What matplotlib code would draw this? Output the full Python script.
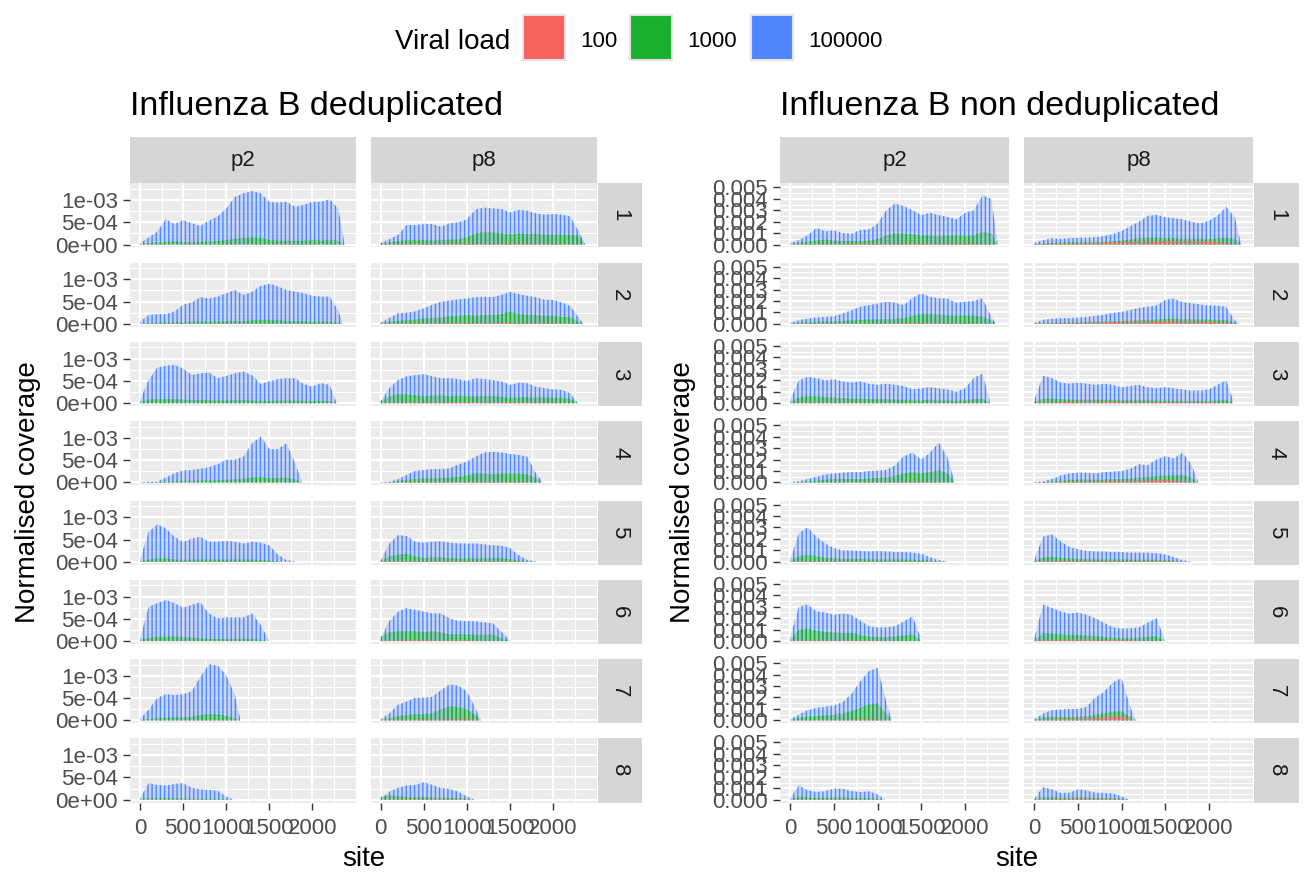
import numpy as np
import matplotlib
matplotlib.use('Agg')
import matplotlib.pyplot as plt
from matplotlib.patches import Rectangle
from matplotlib.colors import to_rgba

plt.rcParams['font.family'] = ['Liberation Sans', 'DejaVu Sans']
plt.rcParams['hatch.linewidth'] = 1.0

# ---------------- data (coverage values in units of 1e-3) ----------------
STEP = 100          # site spacing of the main series
RED_STEP = 500      # site spacing of the 100-copy series
SEG_END = [2370, 2350, 2280, 1880, 1800, 1490, 1160, 1080]
SEGMENTS = ['1', '2', '3', '4', '5', '6', '7', '8']
PASSAGES = ['p2', 'p8']
VIRAL_LOADS = ['100', '1000', '100000']
LOAD_COLORS = ['#F5615C', '#1AB02E', '#4F86FF']

DD_P2_BLUE = [
    [0.03,0.16,0.29,0.57,0.46,0.55,0.48,0.42,0.54,0.63,0.81,1.07,1.15,1.2,1.15,0.96,0.94,0.96,0.85,0.89,0.96,0.96,1.02,0.81,0.05],
    [0.05,0.2,0.22,0.22,0.28,0.43,0.48,0.6,0.57,0.61,0.69,0.76,0.65,0.72,0.85,0.9,0.84,0.76,0.72,0.69,0.63,0.61,0.61,0.3,0.02],
    [0.07,0.52,0.8,0.84,0.86,0.78,0.63,0.67,0.69,0.56,0.61,0.67,0.71,0.63,0.43,0.49,0.54,0.56,0.56,0.43,0.37,0.45,0.41,0.02],
    [0.01,0.02,0.02,0.11,0.21,0.27,0.28,0.31,0.34,0.41,0.51,0.51,0.58,0.88,1.03,0.75,0.75,0.88,0.43,0.01],
    [0.04,0.67,0.84,0.75,0.56,0.45,0.52,0.56,0.45,0.45,0.47,0.45,0.41,0.45,0.43,0.37,0.16,0.04,0.01],
    [0.05,0.77,0.85,0.92,0.85,0.75,0.81,0.87,0.62,0.51,0.53,0.53,0.53,0.62,0.36,0.03],
    [0.03,0.24,0.5,0.59,0.57,0.59,0.65,0.98,1.26,1.23,1.02,0.57,0.05],
    [0.03,0.37,0.33,0.32,0.35,0.37,0.27,0.23,0.22,0.20,0.07,0.01],
]
DD_P2_GREEN = [
    [0.01,0.03,0.05,0.06,0.07,0.06,0.06,0.06,0.07,0.08,0.1,0.13,0.15,0.16,0.15,0.1,0.09,0.09,0.08,0.09,0.1,0.09,0.1,0.09,0.01],
    [0.01,0.02,0.03,0.03,0.03,0.04,0.05,0.05,0.05,0.05,0.06,0.06,0.06,0.08,0.09,0.09,0.08,0.07,0.06,0.06,0.05,0.05,0.05,0.03,0.0],
    [0.03,0.08,0.09,0.09,0.09,0.08,0.07,0.07,0.07,0.06,0.06,0.07,0.07,0.06,0.05,0.05,0.06,0.06,0.06,0.05,0.05,0.05,0.05,0.01],
    [0.0,0.01,0.01,0.02,0.03,0.04,0.04,0.04,0.05,0.05,0.06,0.07,0.08,0.11,0.12,0.1,0.1,0.11,0.07,0.0],
    [0.01,0.05,0.08,0.08,0.05,0.04,0.05,0.05,0.05,0.05,0.05,0.05,0.05,0.05,0.04,0.03,0.01,0.0,0.0],
    [0.03,0.07,0.09,0.1,0.1,0.09,0.08,0.06,0.05,0.05,0.05,0.05,0.05,0.05,0.03,0.0],
    [0.01,0.03,0.05,0.06,0.07,0.07,0.08,0.12,0.14,0.14,0.1,0.05,0.0],
    [0.02,0.03,0.03,0.03,0.03,0.03,0.02,0.02,0.02,0.02,0.01,0.0],
]
DD_P2_RED = [
    [0.003,0.005,0.006,0.006,0.005,0.0],
    [0.003,0.004,0.005,0.005,0.004,0.0],
    [0.004,0.005,0.005,0.004,0.004,0.0],
    [0.002,0.004,0.005,0.006,0.0],
    [0.004,0.004,0.004,0.003,0.0],
    [0.005,0.004,0.004,0.0],
    [0.003,0.005,0.006,0.0],
    [0.003,0.003,0.002,0.0],
]
DD_P8_BLUE = [
    [0.04,0.12,0.22,0.44,0.44,0.46,0.46,0.40,0.48,0.50,0.57,0.79,0.83,0.81,0.80,0.72,0.78,0.76,0.70,0.67,0.69,0.67,0.63,0.29,0.02],
    [0.03,0.13,0.24,0.25,0.28,0.35,0.43,0.5,0.52,0.55,0.57,0.6,0.61,0.6,0.65,0.72,0.67,0.63,0.6,0.54,0.54,0.48,0.4,0.13,0.01],
    [0.04,0.34,0.52,0.6,0.63,0.65,0.6,0.56,0.56,0.54,0.5,0.56,0.54,0.52,0.49,0.41,0.46,0.45,0.37,0.34,0.31,0.30,0.22,0.02],
    [0.01,0.02,0.07,0.17,0.26,0.28,0.3,0.3,0.32,0.4,0.47,0.58,0.67,0.69,0.67,0.64,0.62,0.58,0.21,0.01],
    [0.03,0.41,0.6,0.58,0.45,0.43,0.45,0.46,0.43,0.41,0.41,0.41,0.39,0.37,0.36,0.31,0.15,0.04,0.01],
    [0.05,0.45,0.66,0.74,0.7,0.66,0.62,0.62,0.51,0.45,0.45,0.44,0.42,0.40,0.21,0.03],
    [0.02,0.16,0.35,0.42,0.51,0.51,0.53,0.68,0.81,0.78,0.65,0.27,0.01],
    [0.02,0.18,0.27,0.32,0.33,0.39,0.33,0.26,0.24,0.18,0.07,0.01],
]
DD_P8_GREEN = [
    [0.02,0.05,0.08,0.1,0.1,0.1,0.09,0.1,0.11,0.12,0.16,0.25,0.28,0.27,0.25,0.22,0.25,0.23,0.25,0.22,0.22,0.22,0.22,0.2,0.01],
    [0.02,0.05,0.07,0.08,0.1,0.12,0.13,0.14,0.17,0.18,0.2,0.18,0.2,0.2,0.22,0.28,0.22,0.2,0.2,0.18,0.18,0.16,0.15,0.04,0.0],
    [0.05,0.15,0.2,0.2,0.18,0.15,0.17,0.18,0.15,0.17,0.15,0.15,0.16,0.16,0.14,0.12,0.13,0.14,0.12,0.13,0.12,0.12,0.1,0.02],
    [0.0,0.01,0.03,0.06,0.08,0.09,0.09,0.1,0.11,0.13,0.16,0.2,0.2,0.18,0.2,0.2,0.2,0.18,0.1,0.0],
    [0.02,0.12,0.16,0.18,0.12,0.08,0.1,0.1,0.08,0.08,0.08,0.07,0.08,0.08,0.08,0.06,0.03,0.01,0.0],
    [0.1,0.2,0.22,0.22,0.22,0.2,0.22,0.2,0.15,0.15,0.15,0.14,0.14,0.15,0.06,0.01],
    [0.01,0.05,0.1,0.12,0.14,0.14,0.16,0.25,0.32,0.3,0.25,0.12,0.0],
    [0.06,0.1,0.08,0.06,0.05,0.06,0.05,0.04,0.04,0.04,0.02,0.0],
]
DD_P8_RED = [
    [0.01,0.02,0.025,0.025,0.02,0.0],
    [0.01,0.02,0.02,0.025,0.02,0.0],
    [0.01,0.02,0.02,0.02,0.015,0.0],
    [0.005,0.015,0.02,0.02,0.0],
    [0.01,0.015,0.015,0.01,0.0],
    [0.02,0.02,0.015,0.0],
    [0.01,0.02,0.03,0.0],
    [0.01,0.015,0.01,0.0],
]
ND_P2_BLUE = [
    [0.15,0.38,0.82,1.46,1.17,1.26,1.02,0.96,1.26,1.32,1.84,3.0,3.6,3.36,3.0,2.57,2.78,2.57,2.43,2.19,2.78,3.0,4.3,4.0,0.3],
    [0.09,0.32,0.47,0.56,0.61,0.67,0.9,1.2,1.49,1.64,1.78,1.93,1.84,1.64,2.28,2.66,2.37,2.22,2.22,1.84,1.93,2.02,2.22,0.61,0.05],
    [0.3,2.0,2.3,2.2,2.0,2.1,1.9,1.8,1.9,1.7,1.6,1.7,1.6,1.5,1.2,1.3,1.4,1.3,1.2,1.0,1.3,2.2,2.6,0.3],
    [0.05,0.1,0.3,0.5,0.7,0.8,0.85,0.9,0.9,1.0,1.05,1.1,1.5,2.3,2.6,2.0,2.6,3.5,2.2,0.05],
    [0.2,2.5,3.0,2.2,1.6,1.2,1.0,1.0,0.95,0.9,0.95,0.9,0.85,0.85,0.8,0.7,0.4,0.15,0.02],
    [0.3,3.0,3.2,2.6,2.5,2.3,2.4,2.3,1.8,1.3,1.2,1.2,1.3,1.7,2.2,0.3],
    [0.1,0.5,0.9,1.1,1.2,1.3,1.6,2.3,3.4,4.3,4.6,1.6,0.05],
    [0.09,1.26,0.82,0.67,0.73,0.96,0.96,0.76,0.67,0.73,0.47,0.02],
]
ND_P2_GREEN = [
    [0.05,0.15,0.25,0.35,0.45,0.35,0.3,0.3,0.3,0.35,0.5,0.8,1.0,0.95,0.9,0.8,0.8,0.75,0.8,0.8,0.75,0.8,1.1,1.0,0.05],
    [0.05,0.1,0.15,0.18,0.2,0.22,0.25,0.3,0.35,0.38,0.4,0.42,0.45,0.5,0.7,0.85,0.85,0.8,0.75,0.7,0.75,0.7,0.65,0.3,0.0],
    [0.1,0.5,0.6,0.6,0.55,0.5,0.45,0.4,0.4,0.35,0.35,0.35,0.3,0.3,0.25,0.25,0.3,0.25,0.25,0.2,0.25,0.35,0.4,0.05],
    [0.0,0.05,0.1,0.15,0.25,0.3,0.3,0.3,0.3,0.35,0.4,0.45,0.6,0.8,0.9,0.8,0.9,1.1,0.8,0.0],
    [0.05,0.5,0.6,0.5,0.35,0.3,0.25,0.25,0.25,0.2,0.2,0.2,0.2,0.2,0.18,0.15,0.1,0.03,0.0],
    [0.1,1.0,1.1,0.9,0.8,0.75,0.7,0.7,0.55,0.4,0.35,0.35,0.4,0.5,0.6,0.05],
    [0.05,0.2,0.35,0.4,0.45,0.5,0.6,0.8,1.1,1.4,1.5,0.6,0.0],
    [0.05,0.25,0.2,0.15,0.15,0.2,0.2,0.15,0.12,0.12,0.08,0.0],
]
ND_P2_RED = [
    [0.02,0.05,0.1,0.1,0.1,0.01],
    [0.02,0.04,0.06,0.08,0.06,0.0],
    [0.04,0.05,0.04,0.04,0.04,0.0],
    [0.01,0.04,0.05,0.08,0.0],
    [0.04,0.04,0.03,0.03,0.0],
    [0.05,0.06,0.05,0.0],
    [0.02,0.05,0.1,0.0],
    [0.02,0.04,0.03,0.0],
]
ND_P8_BLUE = [
    [0.15,0.4,0.55,0.5,0.55,0.6,0.6,0.65,0.75,0.9,1.2,1.6,2.0,2.5,2.6,2.4,2.3,2.2,2.0,1.85,2.08,2.5,3.3,2.4,0.1],
    [0.1,0.35,0.45,0.5,0.5,0.55,0.6,0.7,0.8,0.95,1.05,1.2,1.4,1.5,1.6,2.1,2.2,1.9,1.8,1.7,1.6,1.6,1.5,0.3,0.02],
    [0.3,2.4,2.2,1.8,1.7,1.8,1.7,1.6,1.7,1.6,1.4,1.5,1.6,1.4,1.3,1.4,1.3,1.2,1.1,1.1,1.2,1.6,2.0,0.3],
    [0.05,0.1,0.3,0.6,0.8,0.85,0.85,0.8,0.9,0.95,1.0,1.2,1.6,1.5,2.0,2.3,2.1,2.6,1.6,0.05],
    [0.2,2.2,2.4,1.8,1.3,1.1,0.95,0.9,0.9,0.85,0.85,0.8,0.8,0.8,0.75,0.65,0.4,0.15,0.02],
    [0.3,3.2,2.9,2.6,2.4,2.5,2.3,2.0,1.6,1.2,1.1,1.1,1.2,1.6,2.0,0.3],
    [0.1,0.6,0.9,0.95,1.0,1.0,1.2,2.0,2.5,3.3,3.7,1.2,0.05],
    [0.1,1.1,0.9,0.6,0.6,0.9,0.8,0.6,0.6,0.55,0.3,0.02],
]
ND_P8_GREEN = [
    [0.05,0.1,0.15,0.15,0.2,0.2,0.2,0.22,0.25,0.3,0.35,0.45,0.55,0.6,0.6,0.55,0.55,0.5,0.5,0.5,0.5,0.55,0.6,0.5,0.02],
    [0.03,0.08,0.1,0.12,0.12,0.14,0.15,0.18,0.2,0.22,0.25,0.28,0.32,0.35,0.38,0.45,0.48,0.42,0.4,0.38,0.36,0.36,0.34,0.1,0.0],
    [0.1,0.4,0.4,0.35,0.3,0.3,0.3,0.3,0.3,0.28,0.25,0.25,0.25,0.25,0.22,0.22,0.2,0.2,0.2,0.18,0.2,0.25,0.25,0.05],
    [0.0,0.03,0.08,0.15,0.2,0.25,0.25,0.22,0.25,0.28,0.3,0.35,0.45,0.45,0.55,0.6,0.6,0.65,0.45,0.0],
    [0.05,0.4,0.45,0.35,0.3,0.25,0.22,0.2,0.2,0.2,0.2,0.18,0.18,0.18,0.16,0.14,0.1,0.03,0.0],
    [0.1,0.7,0.65,0.6,0.55,0.55,0.5,0.45,0.35,0.28,0.25,0.25,0.28,0.35,0.45,0.05],
    [0.05,0.25,0.3,0.3,0.3,0.3,0.35,0.5,0.6,0.75,0.8,0.3,0.0],
    [0.05,0.2,0.2,0.15,0.15,0.2,0.18,0.15,0.15,0.12,0.08,0.0],
]
ND_P8_RED = [
    [0.05,0.1,0.25,0.3,0.3,0.02],
    [0.03,0.1,0.2,0.25,0.2,0.01],
    [0.05,0.15,0.12,0.1,0.1,0.01],
    [0.02,0.1,0.15,0.25,0.01],
    [0.05,0.1,0.08,0.06,0.0],
    [0.08,0.15,0.1,0.0],
    [0.03,0.15,0.4,0.0],
    [0.03,0.1,0.05,0.0],
]
UNIT = 1e-3

X_TICKS = [0, 500, 1000, 1500, 2000]
X_MINOR = [250, 750, 1250, 1750, 2250]
X_LIM = (-116, 2506)

# ---------------- layout (pixel boxes) ----------------
W, H = 1314, 888
fig = plt.figure(figsize=(W / 100, H / 100), dpi=100)
fig.patch.set_facecolor('white')

ROW_TOP0 = 183.3
ROW_STRIDE = 79.3
ROW_H = 64.2
STRIP_TOP = (137.3, 182.7)

GROUPS = [
    dict(title='Influenza B deduplicated',
         data={'p2': (DD_P2_RED, DD_P2_GREEN, DD_P2_BLUE), 'p8': (DD_P8_RED, DD_P8_GREEN, DD_P8_BLUE)},
         cols=[(130, 356), (370.7, 596.7)], strip_x=(597.7, 642),
         ylim=(-0.0655e-3, 1.3755e-3), yticks=[0, 5e-4, 1e-3],
         ylabels=['0e+00', '5e-04', '1e-03'], yminor=[2.5e-4, 7.5e-4, 1.25e-3],
         ylab_x=28),
    dict(title='Influenza B non deduplicated',
         data={'p2': (ND_P2_RED, ND_P2_GREEN, ND_P2_BLUE), 'p8': (ND_P8_RED, ND_P8_GREEN, ND_P8_BLUE)},
         cols=[(780, 1009.3), (1024.3, 1252.7)], strip_x=(1253.7, 1299),
         ylim=(-0.255e-3, 5.355e-3), yticks=[0, 1e-3, 2e-3, 3e-3, 4e-3, 5e-3],
         ylabels=['0.000', '0.001', '0.002', '0.003', '0.004', '0.005'],
         yminor=[0.5e-3, 1.5e-3, 2.5e-3, 3.5e-3, 4.5e-3],
         ylab_x=683),
]

STRIP_BG = '#D6D6D6'
PANEL_BG = '#EBEBEB'
TICK_COL = '#333333'
TICKLAB_COL = '#4D4D4D'


def px_axes(x0, y0, x1, y1, **kw):
    return fig.add_axes([x0 / W, 1 - y1 / H, (x1 - x0) / W, (y1 - y0) / H], **kw)


def site_positions(n, step, end):
    s = np.arange(n, dtype=float) * step
    s[-1] = end
    return s


def strip(x0, y0, x1, y1, label, rot=0):
    a = px_axes(x0, y0, x1, y1)
    a.set_facecolor(STRIP_BG)
    a.set_xticks([]); a.set_yticks([])
    for sp in a.spines.values():
        sp.set_visible(False)
    a.text(0.5, 0.5, label, ha='center', va='center', rotation=rot,
           fontsize=16, color='#1A1A1A', transform=a.transAxes)


for g in GROUPS:
    for ci, (pas, (cx0, cx1)) in enumerate(zip(PASSAGES, g['cols'])):
        red_l, green_l, blue_l = g['data'][pas]
        strip(cx0, STRIP_TOP[0], cx1, STRIP_TOP[1], pas)
        for ri, seg in enumerate(SEGMENTS):
            top = ROW_TOP0 + ri * ROW_STRIDE
            ax = px_axes(cx0, top, cx1, top + ROW_H)
            ax.set_facecolor(PANEL_BG)
            for sp in ax.spines.values():
                sp.set_visible(False)
            ax.set_xlim(*X_LIM)
            ax.set_ylim(*g['ylim'])
            ax.set_xticks(X_TICKS)
            ax.set_xticks(X_MINOR, minor=True)
            ax.set_yticks(g['yticks'])
            ax.set_yticks(g['yminor'], minor=True)
            ax.set_axisbelow(True)
            ax.grid(which='major', color='white', lw=1.6)
            ax.grid(which='minor', color='white', lw=0.8)
            ax.tick_params(which='minor', length=0)
            ax.tick_params(which='major', length=4.8, width=1.0, color=TICK_COL,
                           labelcolor=TICKLAB_COL, labelsize=16)
            ax.tick_params(axis='y', pad=4.0)
            ax.tick_params(axis='x', pad=6.3)
            if ci == 0:
                ax.set_yticklabels(g['ylabels'])
            else:
                ax.tick_params(axis='y', length=0, labelleft=False)
            if ri == len(SEGMENTS) - 1:
                ax.set_xticklabels([str(t) for t in X_TICKS])
            else:
                ax.tick_params(axis='x', length=0, labelbottom=False)

            series = [(blue_l[ri], LOAD_COLORS[2], STEP, 0.25),
                      (green_l[ri], LOAD_COLORS[1], STEP, 0.3),
                      (red_l[ri], LOAD_COLORS[0], RED_STEP, 0.3)]
            for vals, col, step, alpha in series:
                y = np.asarray(vals) * UNIT
                x = site_positions(len(y), step, SEG_END[ri])
                ax.fill_between(x, 0, y, facecolor=to_rgba(col, alpha), edgecolor=col,
                                linewidth=0, hatch='||||', zorder=2)
            if ci == 1:
                strip(g['strip_x'][0], top, g['strip_x'][1], top + ROW_H, seg, rot=-90)

    # titles and axis labels
    gx0 = g['cols'][0][0]
    gx1 = g['cols'][1][1]
    fig.text(gx0 / W, 1 - 115 / H, g['title'], ha='left', va='baseline', fontsize=24.5, color='black')
    fig.text((gx0 + gx1) / 2 / W, 1 - 866 / H, 'site', ha='center', va='baseline', fontsize=20, color='black')
    fig.text(g['ylab_x'] / W, 1 - 492 / H, 'Normalised coverage', ha='center', va='center',
             rotation=90, fontsize=20, color='black')

# ---------------- legend ----------------
lax = fig.add_axes([0, 0, 1, 1], zorder=-1)
lax.set_xlim(0, W); lax.set_ylim(H, 0); lax.axis('off')
lax.text(395, 49.3, 'Viral load', ha='left', va='baseline', fontsize=20, color='black')
KEY_X = [523.3, 630, 750.7]
LAB_X = [580, 687, 808]
for kx, lx, lab, col in zip(KEY_X, LAB_X, VIRAL_LOADS, LOAD_COLORS):
    lax.add_patch(Rectangle((kx, 15.5), 42, 44.5, facecolor=col, edgecolor='#E3E3E3', lw=1.5))
    lax.text(lx, 46.7, lab, ha='left', va='baseline', fontsize=16, color='black')

fig.savefig('out.png', dpi=100)
